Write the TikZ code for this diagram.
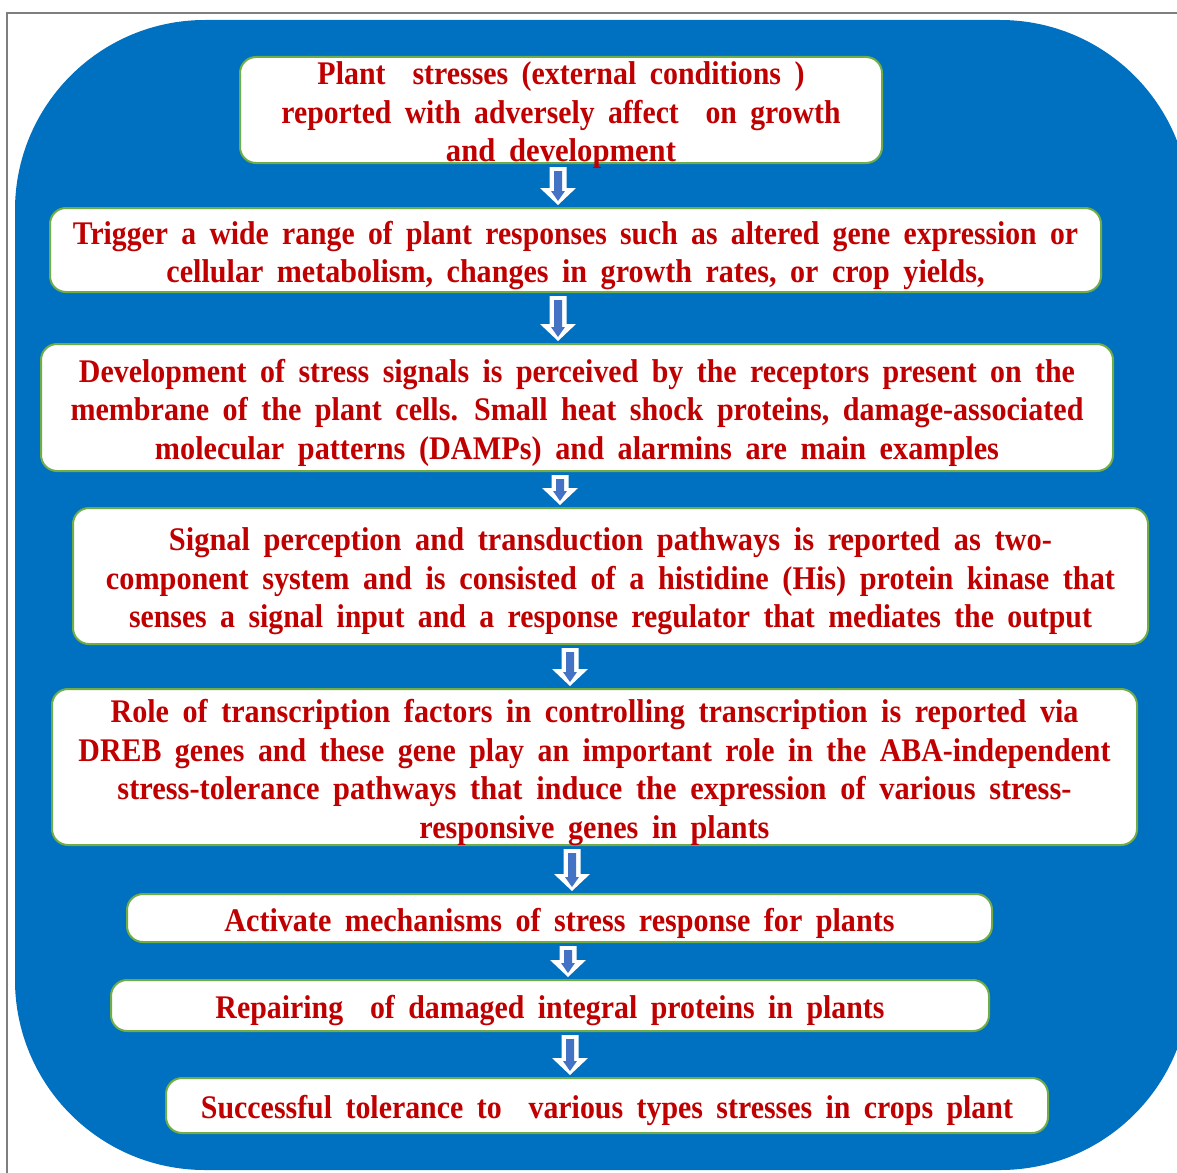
\documentclass[tikz,border=0pt]{standalone}
\usepackage{fontspec}
\setmainfont{Liberation Serif}[WordSpace=1.8]
\usepackage{graphicx}
\usetikzlibrary{calc}
\definecolor{bgblue}{HTML}{0070C0}
\definecolor{boxgreen}{HTML}{70AD47}
\definecolor{txtred}{HTML}{C00000}
\definecolor{arrowblue}{HTML}{4472C4}
\definecolor{framegray}{HTML}{7F7F7F}
\newcommand\fitline[2]{\resizebox{#1pt}{\height}{#2}}
\newcommand\tstrut{\rule{0pt}{34pt}}
% #1 upper node, #2 lower node, #3 x position (pt)
\newcommand\flowarrow[3]{%
  \fill[white] let \p1=(#1.south), \p2=(#2.north) in
    ({#3pt-8.5pt},{\y1-3pt}) -- ({#3pt+8.5pt},{\y1-3pt}) -- ({#3pt+8.5pt},{\y2+19pt})
    -- ({#3pt+18pt},{\y2+19pt}) -- ({#3pt},{\y2+2pt}) -- ({#3pt-18pt},{\y2+19pt})
    -- ({#3pt-8.5pt},{\y2+19pt}) -- cycle;
  \fill[arrowblue] let \p1=(#1.south), \p2=(#2.north) in
    ({#3pt-4pt},{\y1-7pt}) -- ({#3pt+4pt},{\y1-7pt}) -- ({#3pt+4pt},{\y2+16pt})
    -- ({#3pt+7pt},{\y2+16pt}) -- ({#3pt},{\y2+6pt}) -- ({#3pt-7pt},{\y2+16pt})
    -- ({#3pt-4pt},{\y2+16pt}) -- cycle;
}
\begin{document}
\begin{tikzpicture}[x=1pt,y=-1pt,
  stepbox/.style={draw=boxgreen, line width=2pt, fill=white, rounded corners=16pt,
    align=center, text=txtred, font=\fontsize{33}{38.5}\selectfont\bfseries,
    inner xsep=0pt, inner ysep=-10pt},
]
\useasboundingbox (0,0) rectangle (1177,1172);
\clip (0,0) rectangle (1177,1172);
\fill[white] (0,0) rectangle (1177,1172);
\draw[framegray, line width=1.5pt] (7,1180) -- (7,13) -- (1185,13);
\fill[bgblue, rounded corners=190pt] (15,20) rectangle (1190,1170);

\node[stepbox, minimum width=642pt, minimum height=106pt] (b1) at (561,110)
  {\tstrut\fitline{487}{Plant\ \ stresses (external conditions )}\\
   \fitline{559}{reported with adversely affect\ \ on growth}\\
   \fitline{230}{and development}};
\node[stepbox, minimum width=1051pt, minimum height=84pt] (b2) at (575.5,250)
  {\tstrut\fitline{1005}{Trigger a wide range of plant responses such as altered gene expression or}\\
   \fitline{818}{cellular metabolism, changes in growth rates, or crop yields,}};
\node[stepbox, minimum width=1072pt, minimum height=127pt] (b3) at (577,407.5)
  {\tstrut\fitline{996}{Development of stress signals is perceived by the receptors present on the}\\
   \fitline{1013}{membrane of the plant cells. Small heat shock proteins, damage-associated}\\
   \fitline{844}{molecular patterns (DAMPs) and alarmins are main examples}};
\node[stepbox, minimum width=1075pt, minimum height=136pt] (b4) at (610.5,576)
  {\tstrut\fitline{883}{Signal perception and transduction pathways is reported as two-}\\
   \fitline{1009}{component system and is consisted of a histidine (His) protein kinase that}\\
   \fitline{963}{senses a signal input and a response regulator that mediates the output}};
\node[stepbox, minimum width=1085pt, minimum height=156pt] (b5) at (594.5,767)
  {\tstrut\fitline{968}{Role of transcription factors in controlling transcription is reported via}\\
   \fitline{1032}{DREB genes and these gene play an important role in the ABA-independent}\\
   \fitline{954}{stress-tolerance pathways that induce the expression of various stress-}\\
   \fitline{350}{responsive genes in plants}};
\node[stepbox, minimum width=865pt, minimum height=48pt] (b6) at (559.5,918)
  {\tstrut\fitline{670}{Activate mechanisms of stress response for plants}};
\node[stepbox, minimum width=878pt, minimum height=51pt] (b7) at (550,1005.5)
  {\tstrut\fitline{669}{Repairing\ \ of damaged integral proteins in plants}};
\node[stepbox, minimum width=882pt, minimum height=55pt] (b8) at (607,1105.5)
  {\tstrut\fitline{812}{Successful tolerance to\ \ various types stresses in crops plant}};

\flowarrow{b1}{b2}{558}
\flowarrow{b2}{b3}{558}
\flowarrow{b3}{b4}{560}
\flowarrow{b4}{b5}{570}
\flowarrow{b5}{b6}{572}
\flowarrow{b6}{b7}{568}
\flowarrow{b7}{b8}{570}
\end{tikzpicture}
\end{document}
